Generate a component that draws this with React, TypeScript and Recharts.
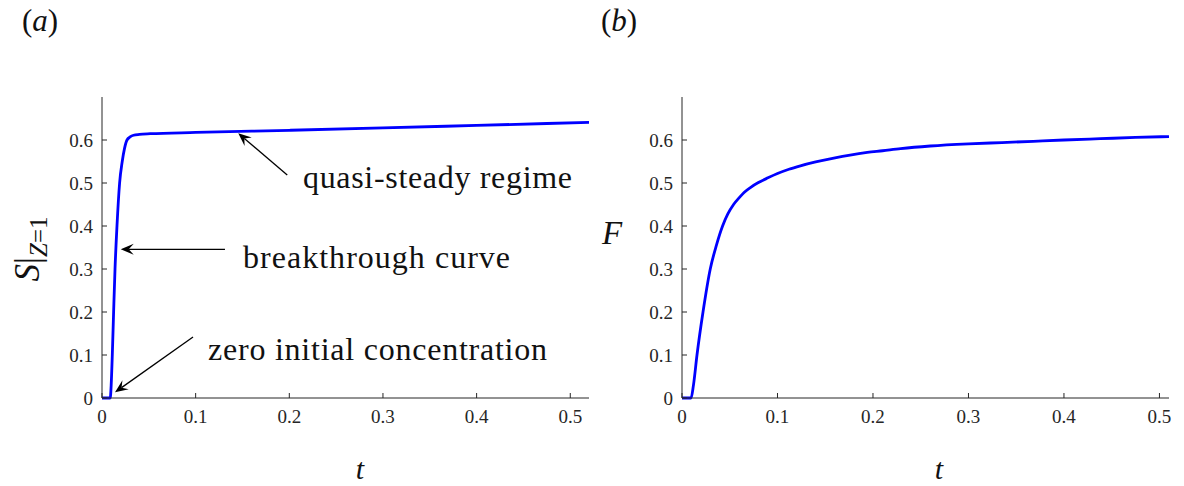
import React from 'react';
import { LineChart, Line, XAxis, YAxis, ReferenceLine, ReferenceDot } from 'recharts';

// ---- data ----
const S_T = [0, 0.005, 0.0088, 0.0098, 0.011, 0.0124, 0.0139, 0.016, 0.0188, 0.0216, 0.024, 0.0267, 0.03, 0.0337, 0.04, 0.0515, 0.1, 0.2, 0.3, 0.4, 0.52];
const S_V = [0, 0, 0, 0.03, 0.1, 0.2, 0.3, 0.4, 0.5, 0.55, 0.58, 0.6, 0.607, 0.611, 0.613, 0.6146, 0.6175, 0.6226, 0.628, 0.634, 0.641];

const F_T = [0, 0.005, 0.0095, 0.012, 0.0157, 0.022, 0.0296, 0.036, 0.0425, 0.048, 0.054, 0.06, 0.065, 0.072, 0.08, 0.09, 0.1, 0.112, 0.124, 0.14, 0.159, 0.176, 0.194, 0.21, 0.229, 0.26, 0.3, 0.335, 0.368, 0.4, 0.438, 0.475, 0.51];
const F_V = [0, 0, 0, 0.03, 0.1, 0.2, 0.3, 0.355, 0.4, 0.428, 0.45, 0.466, 0.478, 0.49, 0.501, 0.512, 0.522, 0.532, 0.54, 0.549, 0.558, 0.565, 0.571, 0.575, 0.58, 0.586, 0.591, 0.594, 0.597, 0.6, 0.603, 0.606, 0.608];

const X_TICKS = [0, 0.1, 0.2, 0.3, 0.4, 0.5];
const Y_TICKS = [0, 0.1, 0.2, 0.3, 0.4, 0.5, 0.6];

// annotations (data coordinates of panel a)
const NOTE_TEXTS = [
  { label: 'quasi-steady regime', x: 0.2146, y: 0.4884, len: 269 },
  { label: 'breakthrough curve', x: 0.1506, y: 0.3023, len: 267 },
  { label: 'zero initial concentration', x: 0.1132, y: 0.0884, len: 339 },
];
const NOTE_ARROWS = [
  { from: [0.1978, 0.5186], to: [0.1455, 0.6156] },
  { from: [0.1313, 0.3458], to: [0.02, 0.3458] },
  { from: [0.0972, 0.1419], to: [0.0139, 0.0133] },
];

const sData = S_T.map((t, i) => ({ t, v: S_V[i] }));
const fData = F_T.map((t, i) => ({ t, v: F_V[i] }));

const FONT = "'Liberation Serif', 'DejaVu Serif', serif";
const AX = '#262626';
const fmt = (v: number) => (v === 0 ? '0' : v.toFixed(1));

const PLOT_BOTTOM = 398;
const PLOT_LEFT = 101;

const XTick = (p: any) => (
  <text
    x={p.x}
    y={PLOT_BOTTOM + 25}
    textAnchor="middle"
    fill={AX}
    style={{ fontFamily: FONT, fontSize: 19 }}
  >
    {fmt(p.payload.value)}
  </text>
);

const YTick = (p: any) => (
  <text
    x={PLOT_LEFT - 8}
    y={p.y + 6.5}
    textAnchor="end"
    fill={AX}
    style={{ fontFamily: FONT, fontSize: 19 }}
  >
    {fmt(p.payload.value)}
  </text>
);

const ArrowShape = (p: any) => {
  const { x1, y1, x2, y2 } = p;
  if ([x1, y1, x2, y2].some((v) => typeof v !== 'number' || isNaN(v))) return <g />;
  const dx = x2 - x1;
  const dy = y2 - y1;
  const L = Math.hypot(dx, dy) || 1;
  const ux = dx / L, uy = dy / L;
  const nx = -uy, ny = ux;
  const hl = 13, hw = 5.5, notch = 8;
  const bx = x2 - ux * hl, by = y2 - uy * hl;
  const mx = x2 - ux * notch, my = y2 - uy * notch;
  return (
    <g>
      <line x1={x1} y1={y1} x2={mx} y2={my} stroke="#000" strokeWidth={1.3} />
      <polygon
        points={`${x2},${y2} ${bx + nx * hw},${by + ny * hw} ${mx},${my} ${bx - nx * hw},${by - ny * hw}`}
        fill="#000"
      />
    </g>
  );
};

const makeTextShape = (label: string, len: number) => (p: any) => (
  <text
    x={p.cx}
    y={p.cy}
    style={{ fontFamily: FONT, fontSize: 32 }}
    fill="#111"
    textLength={len}
    lengthAdjust="spacing"
  >
    {label}
  </text>
);

function Panel({ data, xMax, annotate }: { data: any[]; xMax: number; annotate: boolean }) {
  return (
    <LineChart
      width={annotate ? 600 : 604}
      height={486}
      data={data}
      margin={{ top: 97, right: annotate ? 11 : 15, bottom: 87, left: PLOT_LEFT }}
    >
      <XAxis
        dataKey="t"
        type="number"
        domain={[0, xMax]}
        ticks={X_TICKS}
        interval={0}
        height={1}
        tickSize={-5}
        stroke={AX}
        tick={XTick}
        tickLine={{ stroke: AX }}
      />
      <YAxis
        type="number"
        domain={[0, 0.7]}
        ticks={Y_TICKS}
        interval={0}
        width={1}
        tickSize={-5}
        stroke={AX}
        tick={YTick}
        tickLine={{ stroke: AX }}
      />
      <Line
        dataKey="v"
        type="monotone"
        stroke="#0000ff"
        strokeWidth={2.8}
        dot={false}
        isAnimationActive={false}
      />
      {annotate &&
        NOTE_ARROWS.map((a, i) => (
          <ReferenceLine
            key={'a' + i}
            segment={[
              { x: a.from[0], y: a.from[1] },
              { x: a.to[0], y: a.to[1] },
            ]}
            shape={ArrowShape}
          />
        ))}
      {annotate &&
        NOTE_TEXTS.map((n, i) => (
          <ReferenceDot key={'t' + i} x={n.x} y={n.y} r={0} shape={makeTextShape(n.label, n.len)} />
        ))}
    </LineChart>
  );
}

export default function App() {
  return (
    <div style={{ position: 'absolute', left: 0, top: 0, width: 1184, height: 486, background: '#fff' }}>
      <div style={{ position: 'absolute', left: 0, top: 0 }}>
        <Panel data={sData} xMax={0.52} annotate={true} />
      </div>
      <div style={{ position: 'absolute', left: 580, top: 0 }}>
        <Panel data={fData} xMax={0.51} annotate={false} />
      </div>
      <svg
        width={1184}
        height={486}
        style={{ position: 'absolute', left: 0, top: 0, pointerEvents: 'none', fontFamily: FONT }}
        fill="#111"
      >
        <text x={22} y={31} fontSize={31}>
          (<tspan fontStyle="italic">a</tspan>)
        </text>
        <text x={601} y={31} fontSize={31}>
          (<tspan fontStyle="italic">b</tspan>)
        </text>
        <text x={360} y={479} fontSize={30} fontStyle="italic" textAnchor="middle">
          t
        </text>
        <text x={939} y={479} fontSize={30} fontStyle="italic" textAnchor="middle">
          t
        </text>
        <text x={602} y={244} fontSize={33} fontStyle="italic">
          F
        </text>
        <text transform="translate(39,249) rotate(-90)" textAnchor="middle" fontSize={35}>
          <tspan fontStyle="italic">S</tspan>
          <tspan>|</tspan>
          <tspan fontStyle="italic" fontSize={25} dy={8}>Z</tspan>
          <tspan fontSize={25}>=1</tspan>
        </text>
      </svg>
    </div>
  );
}
